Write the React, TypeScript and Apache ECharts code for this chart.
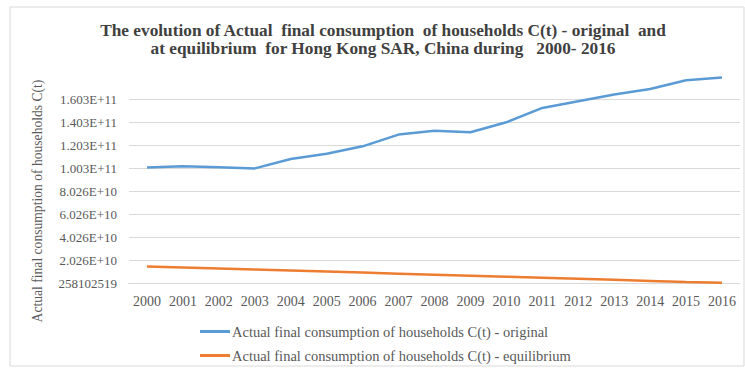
import React, { useEffect, useRef } from "react";
import * as echarts from "echarts";

const years = ["2000","2001","2002","2003","2004","2005","2006","2007","2008","2009","2010","2011","2012","2013","2014","2015","2016"];
const original = [1.008e11,1.017e11,1.01e11,0.999e11,1.081e11,1.127e11,1.191e11,1.293e11,1.327e11,1.313e11,1.40e11,1.525e11,1.583e11,1.641e11,1.69e11,1.765e11,1.79e11];
const equilibrium = [1.47e10,1.38e10,1.29e10,1.2e10,1.11e10,1.02e10,9.3e9,8.4e9,7.5e9,6.6e9,5.7e9,4.8e9,3.9e9,3.0e9,2.1e9,1.2e9,4e8];
const yTickLabels = ["258102519","2.026E+10","4.026E+10","6.026E+10","8.026E+10","1.003E+11","1.203E+11","1.403E+11","1.603E+11"];
const yMin = 258102519;
const yInterval = 2e10;
const seriesNames = [
  "Actual final consumption of households C(t) - original",
  "Actual final consumption of households C(t) - equilibrium",
];
const titleText = "The evolution of Actual  final consumption  of households C(t) - original  and\nat equilibrium  for Hong Kong SAR, China during   2000- 2016";
const yAxisTitle = "Actual final consumption of households C(t)";

export default function App() {
  const ref = useRef<HTMLDivElement>(null);
  useEffect(() => {
    if (!ref.current) return;
    const chart = echarts.init(ref.current, null, { renderer: "svg" });
    const font = "Liberation Serif";
    const gray = "#595959";
    const gridColors = yTickLabels.map(() => "#d9d9d9").concat(["rgba(0,0,0,0)"]);
    chart.setOption({
      animation: false,
      backgroundColor: "#ffffff",
      graphic: [
        {
          type: "rect",
          shape: { x: 10, y: 7, width: 734, height: 359 },
          style: { fill: "none", stroke: "#d9d9d9", lineWidth: 1 },
          silent: true,
        },
        {
          type: "text",
          x: 383,
          y: 39,
          style: {
            text: titleText,
            fontFamily: font,
            fontWeight: "bold",
            fontSize: 17.3,
            lineHeight: 18,
            fill: "#404040",
            textAlign: "center",
            textVerticalAlign: "middle",
          },
        },
        {
          type: "text",
          x: 37.5,
          y: 201,
          rotation: Math.PI / 2,
          style: {
            text: yAxisTitle,
            fontFamily: font,
            fontSize: 13.6,
            fill: gray,
            textAlign: "center",
            textVerticalAlign: "middle",
          },
        },
      ],
      legend: {
        orient: "vertical",
        left: 195,
        top: 319,
        icon: "rect",
        itemWidth: 30,
        itemHeight: 3,
        itemGap: 9,
        textStyle: { fontFamily: font, fontSize: 14.5, color: gray, padding: [0, 0, 0, -3] },
        data: seriesNames,
      },
      grid: { left: 129, right: 5, top: 76, bottom: 88, containLabel: false },
      xAxis: {
        type: "category",
        data: years,
        boundaryGap: true,
        axisLine: { show: true, lineStyle: { color: "#d9d9d9" } },
        axisTick: { show: false },
        axisLabel: { fontFamily: font, fontSize: 14, color: gray, margin: 11, interval: 0 },
      },
      yAxis: {
        type: "value",
        min: yMin,
        max: yMin + yInterval * yTickLabels.length,
        interval: yInterval,
        axisLine: { show: false },
        axisTick: { show: false },
        splitLine: { show: true, lineStyle: { color: gridColors, width: 1 } },
        axisLabel: {
          fontFamily: font,
          fontSize: 13,
          color: gray,
          margin: 12,
          formatter: (v: number) => {
            const i = Math.round((v - yMin) / yInterval);
            return i >= 0 && i < yTickLabels.length ? yTickLabels[i] : "";
          },
        },
      },
      series: [
        {
          name: seriesNames[0],
          type: "line",
          data: original,
          symbol: "none",
          lineStyle: { color: "#5b9bd5", width: 2.5 },
          itemStyle: { color: "#5b9bd5" },
        },
        {
          name: seriesNames[1],
          type: "line",
          data: equilibrium,
          symbol: "none",
          lineStyle: { color: "#ed7d31", width: 2.5 },
          itemStyle: { color: "#ed7d31" },
        },
      ],
    });
    return () => chart.dispose();
  }, []);
  return (
    <div
      ref={ref}
      style={{ position: "absolute", left: 0, top: 0, width: 745, height: 371 }}
    />
  );
}
